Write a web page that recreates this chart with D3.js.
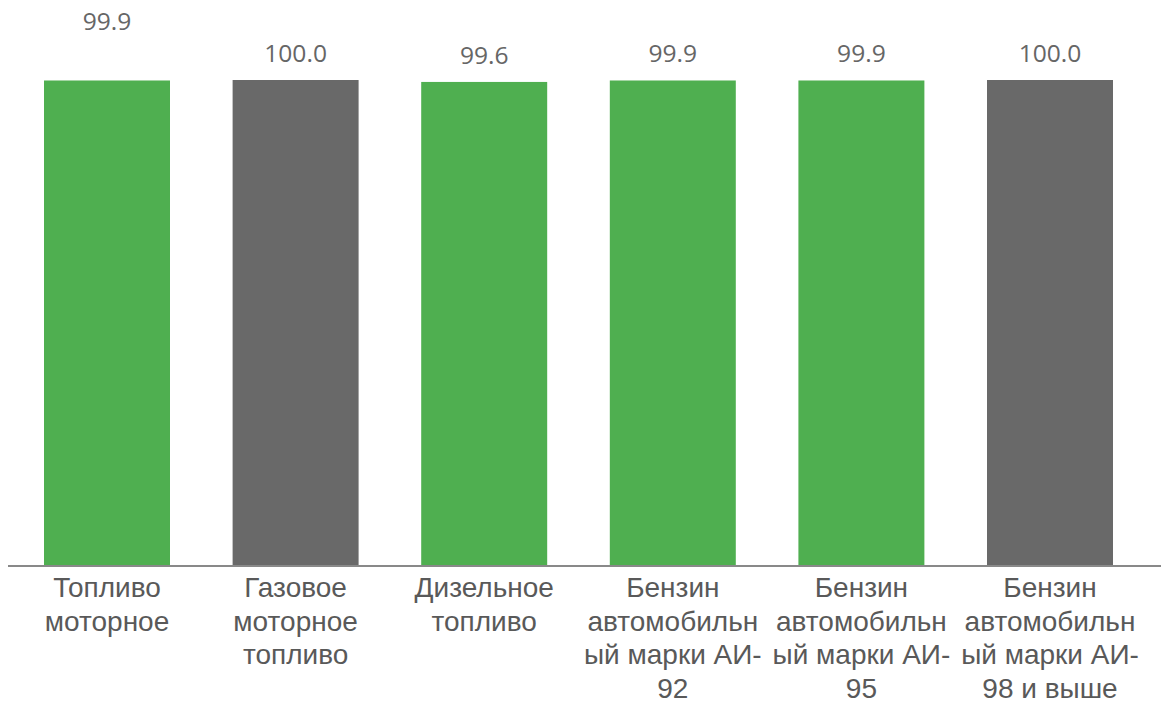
<!DOCTYPE html>
<meta charset="utf-8">
<style>
  body { margin: 0; background: #fff; }
  svg { display: block; }
</style>
<div id="chart"></div>
<script src="https://cdn.jsdelivr.net/npm/d3@7"></script>
<script>

// data
var categories = [
  ["Топливо", "моторное"],
  ["Газовое", "моторное", "топливо"],
  ["Дизельное", "топливо"],
  ["Бензин", "автомобильн", "ый марки АИ-", "92"],
  ["Бензин", "автомобильн", "ый марки АИ-", "95"],
  ["Бензин", "автомобильн", "ый марки АИ-", "98 и выше"]
];
var values = [99.9, 100.0, 99.6, 99.9, 99.9, 100.0];
var barColors = ["#4faf50", "#696969", "#4faf50", "#4faf50", "#4faf50", "#696969"];

var width = 1161, height = 704;
var svg = d3.select("#chart").append("svg")
    .attr("width", width)
    .attr("height", height);

var baseY = 565;

var x = d3.scaleBand()
    .domain(d3.range(values.length))
    .range([12.7, 1144.3])
    .paddingInner(0.332)
    .paddingOuter(0.166);

var y = d3.scaleLinear()
    .domain([0, 100])
    .range([baseY, 80]);

svg.append("g")
  .selectAll("rect")
  .data(values)
  .enter().append("rect")
    .attr("x", function(d, i) { return x(i); })
    .attr("y", function(d) { return y(d); })
    .attr("width", x.bandwidth())
    .attr("height", function(d) { return baseY - y(d); })
    .attr("fill", function(d, i) { return barColors[i]; });

// value labels (the first one sits higher in the original)
svg.append("g")
  .selectAll("text")
  .data(values)
  .enter().append("text")
    .attr("transform", function(d, i) {
      var ty = y(d) - 18 - (i === 0 ? 32 : 0);
      return "translate(" + (x(i) + x.bandwidth() / 2) + "," + ty + ") scale(1.07,1)";
    })
    .attr("text-anchor", "middle")
    .attr("font-family", "'Open Sans', sans-serif")
    .attr("font-size", 23)
    .attr("fill", "#666")
    .text(function(d) { return d.toFixed(1); });

// baseline
svg.append("line")
    .attr("x1", 8)
    .attr("x2", width)
    .attr("y1", baseY + 1)
    .attr("y2", baseY + 1)
    .attr("stroke", "#898989")
    .attr("stroke-width", 2);

// category labels, wrapped like the original
var cat = svg.append("g")
  .selectAll("g")
  .data(categories)
  .enter().append("g")
    .attr("transform", function(d, i) { return "translate(" + (x(i) + x.bandwidth() / 2) + ",0)"; });

cat.selectAll("text")
  .data(function(d) { return d; })
  .enter().append("text")
    .attr("x", 0)
    .attr("y", function(d, j) { return 597 + j * 33.5; })
    .attr("text-anchor", "middle")
    .attr("font-family", "'Liberation Sans', Arial, sans-serif")
    .attr("font-size", 28)
    .attr("fill", "#595959")
    .text(function(d) { return d; });

</script>
